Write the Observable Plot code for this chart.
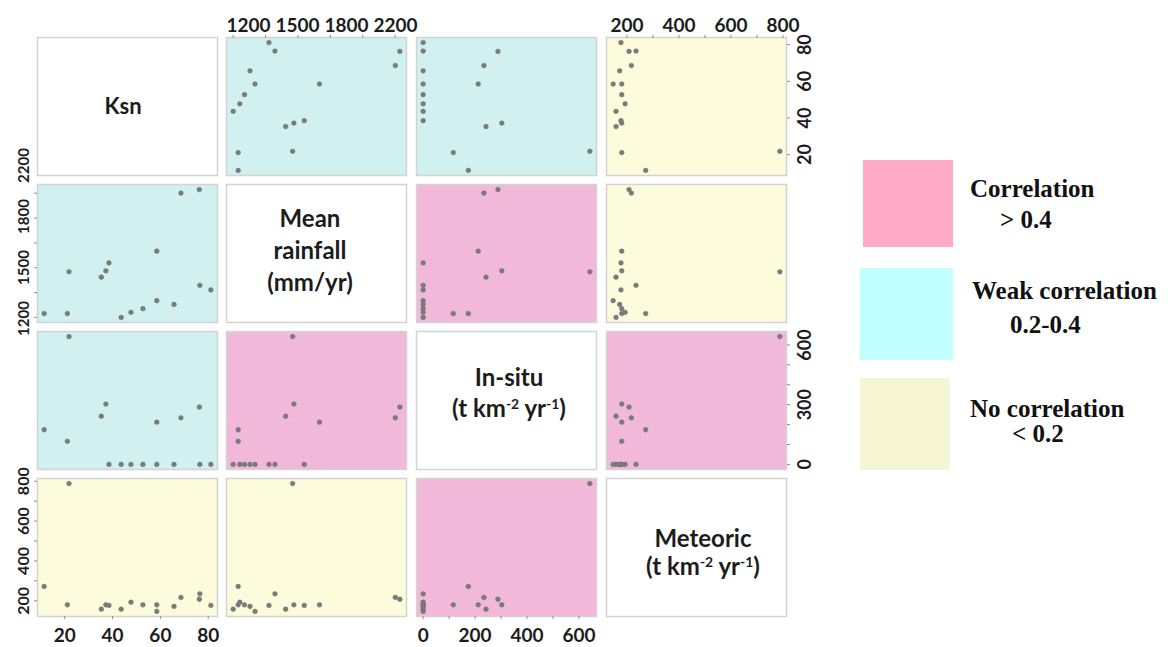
<!DOCTYPE html>
<html>
<head>
<meta charset="utf-8">
<script src="https://cdn.jsdelivr.net/npm/d3@7"></script>
<script src="https://cdn.jsdelivr.net/npm/@observablehq/plot@0.6"></script>
<style>
  html, body { margin: 0; padding: 0; background: #fff; }
  #page { position: relative; width: 1176px; height: 647px; overflow: hidden; background: #fff; font-family: Lato, "Open Sans", sans-serif; }
  .cell { position: absolute; }
  .diag { position: absolute; display: flex; align-items: center; justify-content: center; text-align: center;
          font-family: Lato, sans-serif; font-weight: 700; color: #1c1c1c; font-size: 24px; }
  .diag sup { font-size: 0.58em; vertical-align: 0.6em; line-height: 0; }
  .swatch { position: absolute; }
  .legtext { position: absolute; font-family: "Liberation Serif", "Times New Roman", serif; font-weight: 700;
             font-size: 25px; line-height: 25px; color: #111; white-space: nowrap; }
</style>
</head>
<body>
<div id="page"></div>
<script>
// ---------------- data (one row per sample) ----------------
const ksn      = [11.4, 21.1, 21.8, 35.3, 37.2, 38.5, 43.6, 47.7, 52.7, 58.5, 58.5, 65.7, 68.6, 76.3, 76.5, 81.1];
const rainfall = [1231, 1231, 1567, 1524, 1575, 1639, 1200, 1241, 1270, 1733, 1335, 1304, 2201, 2229, 1458, 1421];
const insitu   = [174, 116, 642, 242, 303, 0, 0, 0, 0, 212, 0, 0, 234, 288, 0, 0];
const meteoric = [272, 180, 788, 158, 180, 177, 158, 193, 180, 180, 147, 172, 217, 208, 235, 177];

const varKeys = ["Ksn", "Rainfall", "InSitu", "Meteoric"];
const diagLabels = [
  ["Ksn"],
  ["Mean", "rainfall", "(mm/yr)"],
  ["In-situ", "(t km<sup>-2</sup> yr<sup>-1</sup>)"],
  ["Meteoric", "(t km<sup>-2</sup> yr<sup>-1</sup>)"]
];

// tick marks and tick labels
const ksnTicks = [20, 40, 60, 80];
const ksnTickLabels = [20, 40, 60, 80];
const rainfallTicks = [1200, 1400, 1600, 1800, 2000, 2200];
const rainfallTickLabels = ["1200", "1500", "1800", "2200"];
const insituTicks = [0, 100, 200, 300, 400, 500, 600];
const insituTickLabelsRight = [0, 300, 600];
const insituTickLabelsBottom = [0, 200, 400, 600];
const meteoricTicks = [200, 300, 400, 500, 600, 700, 800];
const meteoricTickLabels = [200, 400, 600, 800];

// correlation class of each panel pair
const corrClass = [
  [null,   "weak",   "weak",   "none"],
  ["weak", null,     "strong", "none"],
  ["weak", "strong", null,     "strong"],
  ["none", "none",   "strong", null]
];
const classColor = { strong: "#f2b8da", weak: "#d0f1f0", none: "#fcfcdc" };

const legendTitles = ["Correlation", "Weak correlation", "No correlation"];
const legendRanges = ["> 0.4", "0.2-0.4", "< 0.2"];
const legendColors = ["#ffaac6", "#c2ffff", "#f6f6d4"];

// ---------------- layout ----------------
const colX = [37, 226, 416, 606];
const rowY = [37, 184, 331, 478];
const PW = 180, PH = 138;

const table = ksn.map((d, i) => ({ Ksn: d, Rainfall: rainfall[i], InSitu: insitu[i], Meteoric: meteoric[i] }));
const series = [ksn, rainfall, insitu, meteoric];
const dom = v => { const [a, b] = d3.extent(v); const p = (b - a) * 0.04; return [a - p, b + p]; };
const tickSets = [ksnTicks, rainfallTicks, insituTicks, meteoricTicks];

const page = document.getElementById("page");
const baseStyle = { overflow: "visible", background: "transparent" };
const tickStyle = { tickSize: 3, fill: "none", stroke: "#8a8a8a", label: null };
const labelFont = { fontFamily: "Lato", fontWeight: "bold", fill: "#1c1c1c", label: null, tickSize: 0 };

function place(node, x, y, w, h) {
  const div = document.createElement("div");
  div.className = "cell";
  div.style.left = x + "px"; div.style.top = y + "px";
  div.style.width = w + "px"; div.style.height = h + "px";
  div.appendChild(node);
  page.appendChild(div);
}

for (let r = 0; r < 4; r++) {
  for (let c = 0; c < 4; c++) {
    const marks = [];
    const diag = r === c;
    marks.push(Plot.frame({ fill: diag ? "white" : classColor[corrClass[r][c]], stroke: "#d3d3d3", strokeWidth: 1.5 }));
    if (!diag) {
      marks.push(Plot.dot(table, { x: varKeys[c], y: varKeys[r], r: 2.4, fill: "#7b7b7b", stroke: "#6a6a6a", strokeWidth: 0.4 }));
    }
    // top axes (row 0, cols 1 and 3)
    if (r === 0 && (c === 1 || c === 3)) {
      marks.push(Plot.axisX({ anchor: "top", ticks: tickSets[c], ...tickStyle }));
      if (c === 3) marks.push(Plot.axisX({ anchor: "top", ticks: meteoricTickLabels, tickPadding: 6, fontSize: 19, ...labelFont }));
    }
    // bottom axes (row 3, cols 0 and 2)
    if (r === 3 && (c === 0 || c === 2)) {
      marks.push(Plot.axisX({ anchor: "bottom", ticks: tickSets[c], ...tickStyle }));
      marks.push(Plot.axisX({ anchor: "bottom", ticks: c === 0 ? ksnTickLabels : insituTickLabelsBottom, tickPadding: 12, fontSize: 19, ...labelFont }));
    }
    // left axes (col 0, rows 1 and 3)
    if (c === 0 && (r === 1 || r === 3)) {
      marks.push(Plot.axisY({ anchor: "left", ticks: tickSets[r], ...tickStyle }));
      if (r === 3) marks.push(Plot.axisY({ anchor: "left", ticks: meteoricTickLabels, tickRotate: -90, tickPadding: 9, fontSize: 16, ...labelFont }));
    }
    // right axes (col 3, rows 0 and 2)
    if (c === 3 && (r === 0 || r === 2)) {
      marks.push(Plot.axisY({ anchor: "right", ticks: tickSets[r], ...tickStyle }));
      marks.push(Plot.axisY({ anchor: "right", ticks: r === 0 ? ksnTickLabels : insituTickLabelsRight, tickRotate: -90,
                              lineAnchor: "top", textAnchor: "middle", tickPadding: 12, fontSize: 18, ...labelFont }));
    }
    const plot = Plot.plot({
      width: PW, height: PH, margin: 0,
      style: baseStyle,
      x: { domain: dom(series[c]), axis: null },
      y: { domain: dom(series[r]), axis: null },
      marks
    });
    place(plot, colX[c], rowY[r], PW, PH);
  }
}

// rainfall tick labels: evenly spaced text labels as in the original figure
const rainTop = Plot.plot({
  width: PW, height: PH, marginTop: 0, marginBottom: 0, marginLeft: 21, marginRight: 11,
  style: baseStyle,
  x: { type: "point", domain: rainfallTickLabels, padding: 0, axis: null },
  marks: [Plot.axisX({ anchor: "top", tickPadding: 6, fontSize: 19, ...labelFont })]
});
place(rainTop, colX[1], rowY[0], PW, PH);

const rainLeft = Plot.plot({
  width: PW, height: PH, margin: 0,
  style: baseStyle,
  y: { type: "point", domain: rainfallTickLabels, range: [134, -19], padding: 0, axis: null },
  marks: [Plot.axisY({ anchor: "left", tickRotate: -90, tickPadding: 9, fontSize: 15, ...labelFont })]
});
place(rainLeft, colX[0], rowY[1], PW, PH);

// diagonal variable names
const diagOffsets = [[-4, 0, 0], [-6, -3, 32], [3, -8, 31], [7, 5, 28]];
diagLabels.forEach((lines, i) => {
  const d = document.createElement("div");
  d.className = "diag";
  d.style.left = (colX[i] + diagOffsets[i][0]) + "px";
  d.style.top = (rowY[i] + diagOffsets[i][1]) + "px";
  d.style.width = PW + "px"; d.style.height = PH + "px";
  if (i === 0) d.style.fontSize = "22px";
  d.innerHTML = `<div style="line-height:${diagOffsets[i][2] || 30}px">${lines.join("<br>")}</div>`;
  page.appendChild(d);
});

// legend
const swatchBoxes = [[863, 160, 90, 87], [860, 268, 93, 92], [860, 378, 90, 92]];
const titlePos = [[970, 176], [972, 278], [970, 396]];
const rangePos = [[1000, 207], [1010, 312], [1012, 421]];
legendTitles.forEach((t, i) => {
  const s = document.createElement("div");
  s.className = "swatch";
  const [x, y, w, h] = swatchBoxes[i];
  Object.assign(s.style, { left: x + "px", top: y + "px", width: w + "px", height: h + "px", background: legendColors[i] });
  page.appendChild(s);
  const a = document.createElement("div");
  a.className = "legtext"; a.textContent = t;
  a.style.left = titlePos[i][0] + "px"; a.style.top = titlePos[i][1] + "px";
  page.appendChild(a);
  const b = document.createElement("div");
  b.className = "legtext"; b.textContent = legendRanges[i];
  b.style.left = rangePos[i][0] + "px"; b.style.top = rangePos[i][1] + "px";
  page.appendChild(b);
});
</script>
</body>
</html>
